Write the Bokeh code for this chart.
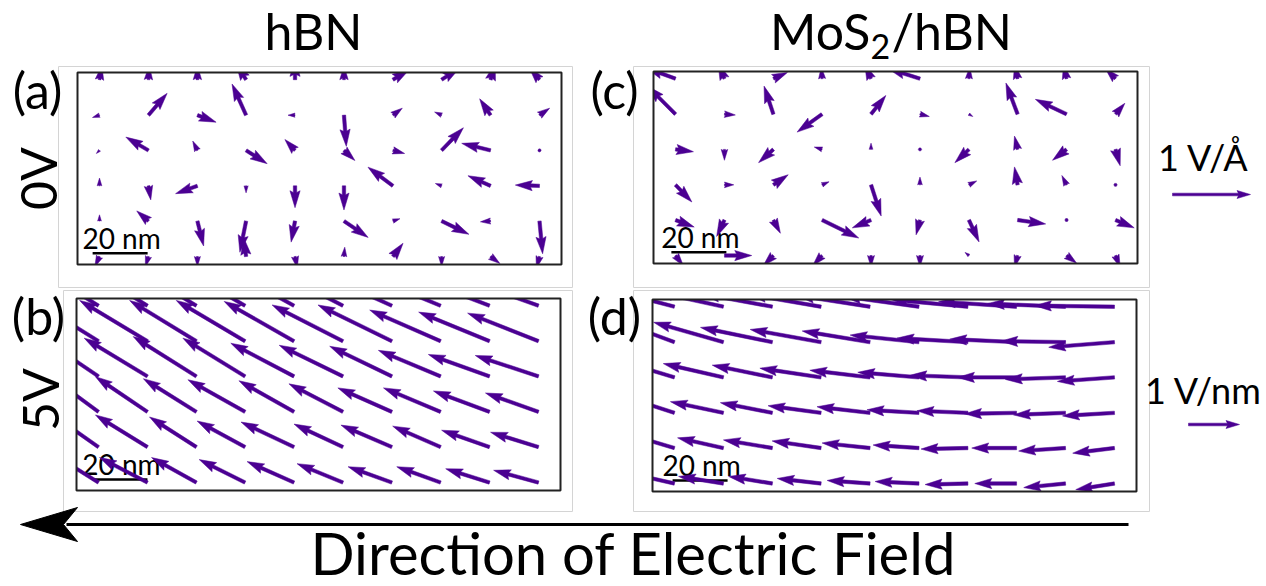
import math
import numpy as np
from bokeh.plotting import figure
from bokeh.models import Range1d
from bokeh.core.properties import value
from bokeh.embed import file_html
from bokeh.resources import INLINE

# ---------------- data ----------------
COLUMN_TITLE_1 = "hBN"
COLUMN_TITLE_2 = ["MoS", "2", "/hBN"]          # MoS2/hBN with subscript 2
ROW_LABELS = ["0V", "5V"]
PANEL_LABELS = ["(a)", "(b)", "(c)", "(d)"]
KEY_LABELS = ["1 V/Å", "1 V/nm"]
KEY_VALUES = [1.0, 1.0]
SCALEBAR_NM = 20.0
SCALEBAR_LABEL = "20 nm"
BOTTOM_LABEL = "Direction of Electric Field"

# sampling grid of the field maps (nm); rows listed top to bottom
GRID_X_NM = [8.0, 25.8, 43.6, 61.3, 79.1, 96.9, 114.7, 132.4, 150.2, 168.0]
GRID_Y_NM = [67.2, 54.3, 41.5, 28.6, 15.8, 2.9]
PANEL_W_NM, PANEL_H_NM = 176.0, 69.8

# (a) hBN, 0 V  -- field components in V/Å
U_A = [
    [0.03, 0.01, 0.00, -0.13, 0.00, 0.00, 0.21, 0.23, 0.06, -0.13],
    [-0.09, 0.24, 0.24, -0.18, -0.09, 0.03, 0.12, -0.09, -0.14, 0.13],
    [-0.04, -0.29, -0.06, 0.27, -0.13, 0.14, 0.15, 0.28, -0.37, 0.01],
    [0.00, 0.03, -0.28, 0.00, 0.00, 0.00, -0.32, -0.08, -0.29, -0.31],
    [0.00, -0.15, 0.08, -0.08, -0.05, 0.31, 0.09, 0.35, -0.13, 0.04],
    [-0.06, -0.04, 0.00, -0.03, 0.03, 0.01, 0.13, 0.00, 0.12, -0.04],
]
V_A = [
    [0.18, 0.18, 0.18, 0.21, 0.26, 0.18, 0.13, 0.15, 0.21, 0.15],
    [-0.03, 0.28, -0.09, 0.40, 0.00, -0.40, 0.09, 0.04, 0.21, 0.09],
    [-0.04, 0.17, 0.12, -0.17, 0.14, -0.13, -0.04, 0.29, 0.09, -0.04],
    [0.10, -0.18, -0.10, -0.09, -0.28, -0.31, 0.24, 0.03, 0.13, 0.01],
    [0.08, 0.13, -0.32, -0.40, -0.27, -0.21, 0.03, -0.17, -0.01, -0.42],
    [-0.13, -0.13, -0.13, 0.24, -0.15, 0.12, 0.17, -0.13, -0.09, -0.15],
]
# (c) MoS2/hBN, 0 V  -- V/Å
U_C = [
    [-0.38, -0.08, 0.18, -0.01, -0.08, -0.41, 0.01, -0.04, -0.04, -0.13],
    [-0.36, 0.14, -0.12, -0.32, 0.19, 0.12, 0.05, -0.15, -0.40, 0.12],
    [0.23, 0.00, -0.19, -0.10, 0.00, 0.00, -0.18, -0.04, -0.18, 0.06],
    [0.21, 0.12, 0.19, 0.09, 0.13, 0.00, 0.10, -0.04, -0.06, 0.00],
    [0.24, -0.10, 0.09, 0.47, -0.24, -0.05, 0.13, 0.36, 0.00, 0.24],
    [0.10, 0.35, -0.13, -0.12, 0.00, 0.00, -0.05, -0.04, 0.13, 0.06],
]
V_C = [
    [0.14, 0.19, 0.08, 0.15, 0.18, 0.13, 0.15, 0.18, 0.18, 0.13],
    [0.36, -0.01, 0.36, -0.23, 0.24, -0.03, -0.03, 0.40, 0.19, 0.14],
    [-0.03, -0.14, -0.17, 0.03, 0.08, 0.00, -0.17, 0.17, -0.14, -0.21],
    [-0.22, 0.00, 0.13, 0.04, -0.40, 0.10, 0.05, 0.23, 0.12, 0.00],
    [-0.09, -0.21, -0.17, -0.23, -0.10, -0.19, -0.28, -0.05, 0.00, -0.10],
    [-0.13, 0.00, -0.13, -0.13, -0.15, -0.15, 0.04, -0.15, -0.10, -0.15],
]
# (b) hBN, 5 V  -- V/nm
U_B = [
    [-1.33, -1.33, -1.33, -1.35, -1.37, -1.39, -1.41, -1.39, -1.39, -1.37],
    [-1.31, -1.33, -1.31, -1.35, -1.37, -1.39, -1.45, -1.39, -1.39, -1.39],
    [-1.18, -1.24, -1.24, -1.22, -1.24, -1.25, -1.22, -1.22, -1.20, -1.24],
    [-1.02, -1.02, -1.04, -1.12, -1.08, -1.06, -1.06, -1.12, -1.10, -1.04],
    [-0.98, -1.02, -0.92, -0.94, -1.04, -0.96, -1.00, -0.94, -0.94, -0.94],
    [-0.94, -0.94, -0.88, -0.90, -0.92, -0.90, -0.86, -0.86, -0.86, -0.88],
]
V_B = [
    [0.82, 0.82, 0.80, 0.78, 0.75, 0.71, 0.63, 0.57, 0.53, 0.49],
    [0.82, 0.80, 0.80, 0.80, 0.78, 0.71, 0.71, 0.61, 0.57, 0.55],
    [0.80, 0.75, 0.78, 0.75, 0.65, 0.61, 0.59, 0.51, 0.43, 0.41],
    [0.75, 0.69, 0.65, 0.63, 0.61, 0.55, 0.47, 0.47, 0.41, 0.37],
    [0.69, 0.63, 0.59, 0.51, 0.49, 0.45, 0.43, 0.41, 0.33, 0.29],
    [0.59, 0.49, 0.49, 0.45, 0.41, 0.37, 0.31, 0.31, 0.27, 0.24],
]
# (d) MoS2/hBN, 5 V  -- V/nm
U_D = [
    [-1.33, -1.33, -1.37, -1.41, -1.43, -1.47, -1.51, -1.53, -1.53, -1.57],
    [-1.37, -1.37, -1.41, -1.39, -1.33, -1.35, -1.39, -1.31, -1.27, -1.29],
    [-1.29, -1.18, -1.18, -1.20, -1.18, -1.20, -1.14, -1.16, -1.18, -1.12],
    [-1.08, -1.04, -1.02, -1.04, -1.04, -1.02, -1.00, -1.02, -1.02, -1.02],
    [-0.98, -0.90, -0.96, -0.96, -0.94, -0.90, -0.92, -0.88, -0.92, -0.82],
    [-0.88, -0.88, -0.86, -0.86, -0.84, -0.86, -0.84, -0.82, -0.82, -0.76],
]
V_D = [
    [0.35, 0.29, 0.25, 0.24, 0.22, 0.20, 0.14, 0.10, 0.06, 0.02],
    [0.51, 0.39, 0.29, 0.25, 0.22, 0.14, 0.08, 0.06, 0.02, -0.10],
    [0.39, 0.27, 0.24, 0.18, 0.14, 0.10, 0.04, 0.00, -0.04, -0.08],
    [0.35, 0.22, 0.20, 0.14, 0.12, 0.06, 0.04, -0.02, -0.04, -0.06],
    [0.29, 0.20, 0.16, 0.14, 0.10, 0.06, -0.02, 0.00, -0.06, -0.10],
    [0.20, 0.14, 0.14, 0.10, 0.06, 0.04, -0.02, 0.00, -0.08, -0.12],
]

# ---------------- layout / style ----------------
WIDTH, HEIGHT = 1266, 586
PX_PER_NM = 2.75
ARROW_COLOR = "#4B0092"
FONT = "Lato"
SHAFT_PX = 3.4
KEY_SHAFT_PX = 2.7
BASE_FIX = 0.42          # compensation of the svg text baseline (fraction of font size)
PX_PER_UNIT = {"a": 78.0, "c": 78.0, "b": 51.0, "d": 51.0}   # quiver scale (px per key unit)
PANEL_POS = {"a": (77, 264), "b": (76, 490), "c": (653, 263), "d": (652, 491)}
PANEL_FIELDS = {"a": (U_A, V_A), "b": (U_B, V_B), "c": (U_C, V_C), "d": (U_D, V_D)}
SCALEBAR_POS_NM = {"a": (5.5, 4.1), "b": (5.8, 4.0), "c": (6.5, 4.1), "d": (7.3, 4.0)}


def quiver_shape(x, y, u, v, scale, w):
    """Matplotlib-style quiver polygon (tail pivot), lengths in the same unit as w."""
    L = math.hypot(u, v) * scale / w
    ang = math.atan2(v, u)
    if L < 1.0:
        th = np.arange(6) * np.pi / 3.0
        X = list(np.cos(th) * 0.5)
        Y = list(np.sin(th) * 0.5)
    elif L < 5.0:
        sh = L / 5.0
        X = [c * sh for c in [0, 0.5, 0, 5, 0, 0.5, 0]]
        Y = [c * sh for c in [0.5, 0.5, 1.5, 0, -1.5, -0.5, -0.5]]
    else:
        X = [0, L - 4.5, L - 5, L, L - 5, L - 4.5, 0]
        Y = [0.5, 0.5, 1.5, 0, -1.5, -0.5, -0.5]
    ca, sa = math.cos(ang), math.sin(ang)
    xs = [x + w * (a * ca - b * sa) for a, b in zip(X, Y)]
    ys = [y + w * (a * sa + b * ca) for a, b in zip(X, Y)]
    return xs, ys


def clip(xs, ys, xmin, xmax, ymin, ymax):
    pts = list(zip(xs, ys))
    edges = [
        (lambda p: p[0] >= xmin, lambda p, q: (xmin, p[1] + (q[1] - p[1]) * (xmin - p[0]) / (q[0] - p[0]))),
        (lambda p: p[0] <= xmax, lambda p, q: (xmax, p[1] + (q[1] - p[1]) * (xmax - p[0]) / (q[0] - p[0]))),
        (lambda p: p[1] >= ymin, lambda p, q: (p[0] + (q[0] - p[0]) * (ymin - p[1]) / (q[1] - p[1]), ymin)),
        (lambda p: p[1] <= ymax, lambda p, q: (p[0] + (q[0] - p[0]) * (ymax - p[1]) / (q[1] - p[1]), ymax)),
    ]
    for inside, inter in edges:
        if not pts:
            break
        out = []
        prev = pts[-1]
        for cur in pts:
            if inside(cur):
                if not inside(prev):
                    out.append(inter(prev, cur))
                out.append(cur)
            elif inside(prev):
                out.append(inter(prev, cur))
            prev = cur
        pts = out
    return [p[0] for p in pts], [p[1] for p in pts]


def label(x, y, txt, size, align="center", angle=0.0):
    """Text whose alphabetic baseline sits at page pixel (x, y)."""
    if angle:
        x = [xx - BASE_FIX * size for xx in x]
    else:
        y = [yy - BASE_FIX * size for yy in y]
    p.text(x=x, y=y, text=txt, angle=angle, text_font=value(FONT), text_font_size=value(f"{size}px"),
           text_align=align, text_baseline="alphabetic", text_color="black")


p = figure(width=WIDTH, height=HEIGHT, x_range=Range1d(0, WIDTH), y_range=Range1d(HEIGHT, 0),
           output_backend="svg", toolbar_location=None, min_border=0, title=None,
           x_axis_type=None, y_axis_type=None)
p.outline_line_color = None
p.background_fill_color = "white"
p.border_fill_color = "white"

# light grey borders of the four sub-images
p.quad(left=[58, 63, 633, 633], right=[572, 572, 1149, 1149], top=[66, 290, 66, 290],
       bottom=[287, 511, 287, 511], fill_color=None, line_color="#d4d4d4", line_width=1)

# panel coordinate systems (nm), mapped onto the page by Bokeh
for key, (L, B) in PANEL_POS.items():
    p.extra_x_ranges[key] = Range1d(start=-L / PX_PER_NM, end=(WIDTH - L) / PX_PER_NM)
    p.extra_y_ranges[key] = Range1d(start=(B - HEIGHT) / PX_PER_NM, end=B / PX_PER_NM)

SB_FONT = 28
for key in ["a", "b", "c", "d"]:
    U, V = PANEL_FIELDS[key]
    scale_nm = PX_PER_UNIT[key] / PX_PER_NM
    w_nm = SHAFT_PX / PX_PER_NM
    # scale bar + label
    sx, sy = SCALEBAR_POS_NM[key]
    p.segment(x0=[sx], y0=[sy], x1=[sx + SCALEBAR_NM], y1=[sy], line_color="black",
              line_width=2.6, x_range_name=key, y_range_name=key)
    p.text(x=[sx - 3.7], y=[sy + 1.3 + BASE_FIX * SB_FONT / PX_PER_NM], text=[SCALEBAR_LABEL],
           text_font=value(FONT), text_font_size=value(f"{SB_FONT}px"), text_color="black",
           text_baseline="alphabetic", text_align="left", x_range_name=key, y_range_name=key)
    xs_all, ys_all = [], []
    for j, gy in enumerate(GRID_Y_NM):
        for i, gx in enumerate(GRID_X_NM):
            xs, ys = quiver_shape(gx, gy, U[j][i], V[j][i], scale_nm, w_nm)
            xs, ys = clip(xs, ys, 0, PANEL_W_NM, 0, PANEL_H_NM)
            if len(xs) >= 3:
                xs_all.append(xs)
                ys_all.append(ys)
    p.patches(xs_all, ys_all, fill_color=ARROW_COLOR, line_color=ARROW_COLOR, line_width=0.5,
              x_range_name=key, y_range_name=key)
    p.quad(left=[0], right=[PANEL_W_NM], bottom=[0], top=[PANEL_H_NM], fill_color=None,
           line_color="#222222", line_width=2, x_range_name=key, y_range_name=key)

# column titles
label([313], [51], [COLUMN_TITLE_1], 50)
label([870], [51], [COLUMN_TITLE_2[0]], 50, align="right")
label([870], [60], [COLUMN_TITLE_2[1]], 34, align="left")
label([891], [51], [COLUMN_TITLE_2[2]], 50, align="left")

# panel letters
label([37, 38, 614, 614], [110, 336, 110, 336], PANEL_LABELS, 50)

# row labels (rotated)
label([58, 60], [178, 399], ROW_LABELS, 50, angle=math.pi / 2)

# quiver keys
label([1203], [172], [KEY_LABELS[0]], 36)
label([1203], [405], [KEY_LABELS[1]], 36)
key_tails = [(1172, 194, PX_PER_UNIT["a"]), (1188, 424, PX_PER_UNIT["b"])]
kx, ky = [], []
for (tx, ty, sc), val in zip(key_tails, KEY_VALUES):
    xs, ys = quiver_shape(tx, ty, val, 0.0, sc, KEY_SHAFT_PX)
    kx.append(xs)
    ky.append(ys)
p.patches(kx, ky, fill_color=ARROW_COLOR, line_color=ARROW_COLOR, line_width=0.5)

# big arrow: direction of electric field
p.segment(x0=[1128], y0=[524], x1=[66], y1=[524], line_color="black", line_width=3.2)
p.patch([20, 77, 63, 77], [524, 507, 524, 541], fill_color="black", line_color="black", line_width=1)
label([633], [576], [BOTTOM_LABEL], 58)

open("out.html", "w").write(file_html(p, INLINE))
